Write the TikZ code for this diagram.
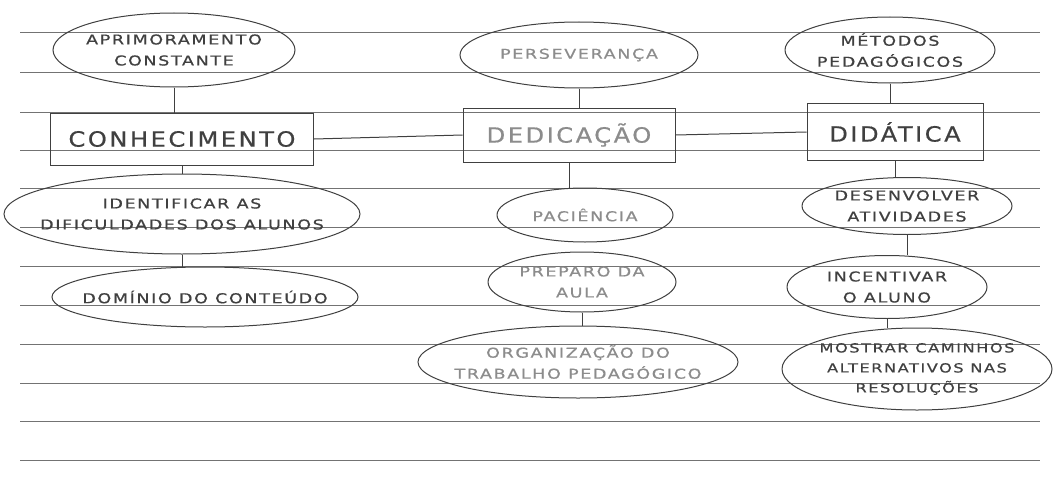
\documentclass[tikz,border=0pt]{standalone}
\usepackage{fontspec}
\setmainfont{DejaVu Sans}
\newfontfamily\handfont[LetterSpace=12, FakeStretch=1.3, FakeBold=0.6]{DejaVu Sans}
\newfontfamily\bigfont[LetterSpace=12, FakeStretch=1.15, FakeBold=0.6]{DejaVu Sans}
\usepackage{tikz}
\usetikzlibrary{shapes.geometric, positioning}

\begin{document}
\begin{tikzpicture}[x=1pt, y=-1pt,
    idea/.style={draw=black!75, ellipse, inner sep=0pt, line width=1pt},
    concept/.style={draw=black!75, rectangle, inner sep=0pt, line width=1pt,
        font=\bigfont\fontsize{21}{24}\selectfont, text=black!75},
    tag/.style={font=\handfont\fontsize{13.5}{21}\selectfont, text=black!75, align=center},
    faint/.style={text=black!45},
    link/.style={draw=black!75, line width=1pt}]
    \useasboundingbox[fill=white] (0,0) rectangle (1054,495);
    % ruled paper
    \foreach \y in {33,72,112,150,188,227,266,305,344,383,421,460}
        \draw[black!55, line width=1pt] (20,\y) -- (1040,\y);
    % left column
    \node[idea, minimum width=242, minimum height=74,
        label={[tag]center:{APRIMORAMENTO\\CONSTANTE}}] (apri) at (174,50) {};
    \node[concept, minimum width=263, minimum height=52] (conh) at (182,139) {CONHECIMENTO};
    \node[idea, minimum width=356, minimum height=80,
        label={[tag]center:{IDENTIFICAR AS\\DIFICULDADES DOS ALUNOS}}] (iden) at (182,214) {};
    \node[idea, minimum width=306, minimum height=60,
        label={[tag]center:{DOMÍNIO DO CONTEÚDO}}] (domi) at (205,297) {};
    % middle column
    \node[idea, minimum width=238, minimum height=66,
        label={[tag, faint]center:{PERSEVERANÇA}}] (pers) at (579,55) {};
    \node[concept, faint, minimum width=212, minimum height=54] (dedi) at (569,135) {DEDICAÇÃO};
    \node[idea, minimum width=176, minimum height=54,
        label={[tag, faint]center:{PACIÊNCIA}}] (paci) at (585,215) {};
    \node[idea, minimum width=188, minimum height=60,
        label={[tag, faint]center:{PREPARO DA\\AULA}}] (prep) at (582,282) {};
    \node[idea, minimum width=320, minimum height=72,
        label={[tag, faint]center:{ORGANIZAÇÃO DO\\TRABALHO PEDAGÓGICO}}] (orga) at (578,362) {};
    % right column
    \node[idea, minimum width=210, minimum height=66,
        label={[tag]center:{MÉTODOS\\PEDAGÓGICOS}}] (meto) at (890,50) {};
    \node[concept, minimum width=176, minimum height=57] (dida) at (895,132) {DIDÁTICA};
    \node[idea, minimum width=210, minimum height=57,
        label={[tag]center:{DESENVOLVER\\ATIVIDADES}}] (dese) at (907,206) {};
    \node[idea, minimum width=200, minimum height=63,
        label={[tag]center:{INCENTIVAR\\O ALUNO}}] (ince) at (887,287) {};
    \node[idea, minimum width=270, minimum height=82,
        label={[tag, font=\handfont\fontsize{12.5}{20}\selectfont]center:{MOSTRAR CAMINHOS\\ALTERNATIVOS NAS\\RESOLUÇÕES}}] (most) at (917,369) {};
    % connectors
    \draw[link] (apri.south) -- (apri.south |- conh.north);
    \draw[link] (conh.south) -- (conh.south |- iden.north);
    \draw[link] (iden.south) -- (iden.south |- domi.north);
    \draw[link] (pers.south) -- (pers.south |- dedi.north);
    \draw[link] (dedi.south) -- (dedi.south |- paci.north);
    \draw[link] (prep.south) -- (prep.south |- orga.north);
    \draw[link] (meto.south) -- (meto.south |- dida.north);
    \draw[link] (dida.south) -- (dida.south |- dese.north);
    \draw[link] (dese.south) -- (dese.south |- ince.north);
    \draw[link] (ince.south) -- (ince.south |- most.north);
    \draw[link] (conh.east) -- (dedi.west);
    \draw[link] (dedi.east) -- (dida.west);
\end{tikzpicture}
\end{document}
